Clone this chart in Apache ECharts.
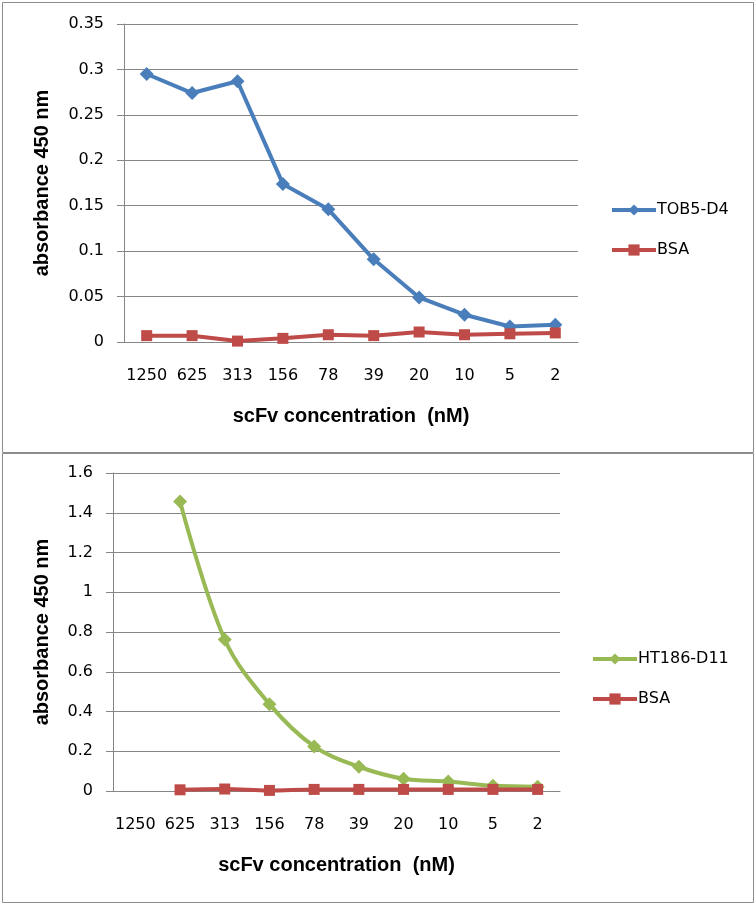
<!DOCTYPE html>
<html>
<head>
<meta charset="utf-8">
<script src="https://cdn.jsdelivr.net/npm/echarts@6/dist/echarts.min.js"></script>
<style>
  html, body { margin: 0; padding: 0; background: #fff; }
  #chart { width: 756px; height: 905px; }
</style>
</head>
<body>
<div id="chart"></div>
<script>
// data
var concentrations = ['1250', '625', '313', '156', '78', '39', '20', '10', '5', '2'];

var tob5d4 = [0.295, 0.274, 0.287, 0.174, 0.146, 0.091, 0.049, 0.030, 0.017, 0.019];
var bsaTop = [0.007, 0.007, 0.001, 0.004, 0.008, 0.007, 0.011, 0.008, 0.009, 0.010];

var ht186d11 = [null, 1.457, 0.762, 0.437, 0.224, 0.122, 0.062, 0.048, 0.026, 0.022];
var bsaBottom = [null, 0.006, 0.010, 0.003, 0.008, 0.008, 0.008, 0.008, 0.008, 0.008];

var topTicks = { min: 0, max: 0.35, interval: 0.05 };
var bottomTicks = { min: 0, max: 1.6, interval: 0.2 };

var BLUE = '#4a7ebb', RED = '#be4b48', GREEN = '#98b954';
var GRID = '#868686';
var tickFont = 'DejaVu Sans';
var titleFont = 'Liberation Sans';

var myChart = echarts.init(document.getElementById('chart'));

function xAxisFor(idx) {
    return {
        type: 'category',
        gridIndex: idx,
        data: concentrations,
        boundaryGap: true,
        name: 'scFv concentration  (nM)',
        nameLocation: 'middle',
        nameGap: 64,
        nameTextStyle: { fontFamily: titleFont, fontWeight: 'bold', fontSize: 20, color: '#000' },
        axisLine: { lineStyle: { color: GRID, width: 1 } },
        axisTick: { show: false },
        axisLabel: { interval: 0, margin: 26, fontFamily: tickFont, fontSize: 16, color: '#000' }
    };
}

function yAxisFor(idx, ticks, gap) {
    return {
        type: 'value',
        gridIndex: idx,
        min: ticks.min,
        max: ticks.max,
        interval: ticks.interval,
        name: 'absorbance 450 nm',
        nameLocation: 'middle',
        nameRotate: 90,
        nameGap: gap,
        nameTextStyle: { fontFamily: titleFont, fontWeight: 'bold', fontSize: 20, color: '#000' },
        axisLine: { show: true, lineStyle: { color: GRID, width: 1 } },
        axisTick: { show: true, length: 7, lineStyle: { color: GRID } },
        splitLine: { lineStyle: { color: GRID, width: 1 } },
        axisLabel: { margin: 20, fontFamily: tickFont, fontSize: 16, color: '#000',
            formatter: function (v) { return String(+v.toFixed(2)); } }
    };
}

function lineSeries(name, data, color, symbol, size, xi, smooth) {
    return {
        name: name,
        type: 'line',
        xAxisIndex: xi,
        yAxisIndex: xi,
        data: data,
        smooth: smooth,
        symbol: symbol,
        symbolSize: size,
        showSymbol: true,
        lineStyle: { color: color, width: 4 },
        itemStyle: { color: color, borderWidth: 0 },
        emphasis: { disabled: true },
        animation: false
    };
}

var option = {
    animation: false,
    backgroundColor: '#fff',
    graphic: [
        { type: 'rect', shape: { x: 2.5, y: 2.5, width: 751, height: 450 },
          style: { fill: 'none', stroke: '#8c8c8c', lineWidth: 1 } },
        { type: 'rect', shape: { x: 2.5, y: 453.5, width: 751, height: 449 },
          style: { fill: 'none', stroke: '#8c8c8c', lineWidth: 1 } }
    ],
    legend: [
        {
            orient: 'vertical', left: 605, top: 197, itemWidth: 44, itemHeight: 14, itemGap: 24,
            data: ['TOB5-D4', 'BSA '],
            lineStyle: { width: 4 },
            textStyle: { fontFamily: tickFont, fontSize: 16, color: '#000', padding: [0, 0, 0, -4] }
        },
        {
            orient: 'vertical', left: 586, top: 646, itemWidth: 44, itemHeight: 14, itemGap: 24,
            data: ['HT186-D11', 'BSA'],
            lineStyle: { width: 4 },
            textStyle: { fontFamily: tickFont, fontSize: 16, color: '#000', padding: [0, 0, 0, -4] }
        }
    ],
    grid: [
        { left: 124, top: 24, width: 454, height: 318 },
        { left: 113, top: 473, width: 447, height: 318 }
    ],
    xAxis: [xAxisFor(0), xAxisFor(1)],
    yAxis: [yAxisFor(0, topTicks, 72), yAxisFor(1, bottomTicks, 61)],
    series: [
        lineSeries('TOB5-D4', tob5d4, BLUE, 'diamond', 14, 0, false),
        lineSeries('BSA ', bsaTop, RED, 'rect', 11, 0, false),
        lineSeries('HT186-D11', ht186d11, GREEN, 'diamond', 14, 1, 0.35),
        lineSeries('BSA', bsaBottom, RED, 'rect', 11, 1, 0.35)
    ]
};

myChart.setOption(option);
</script>
</body>
</html>
